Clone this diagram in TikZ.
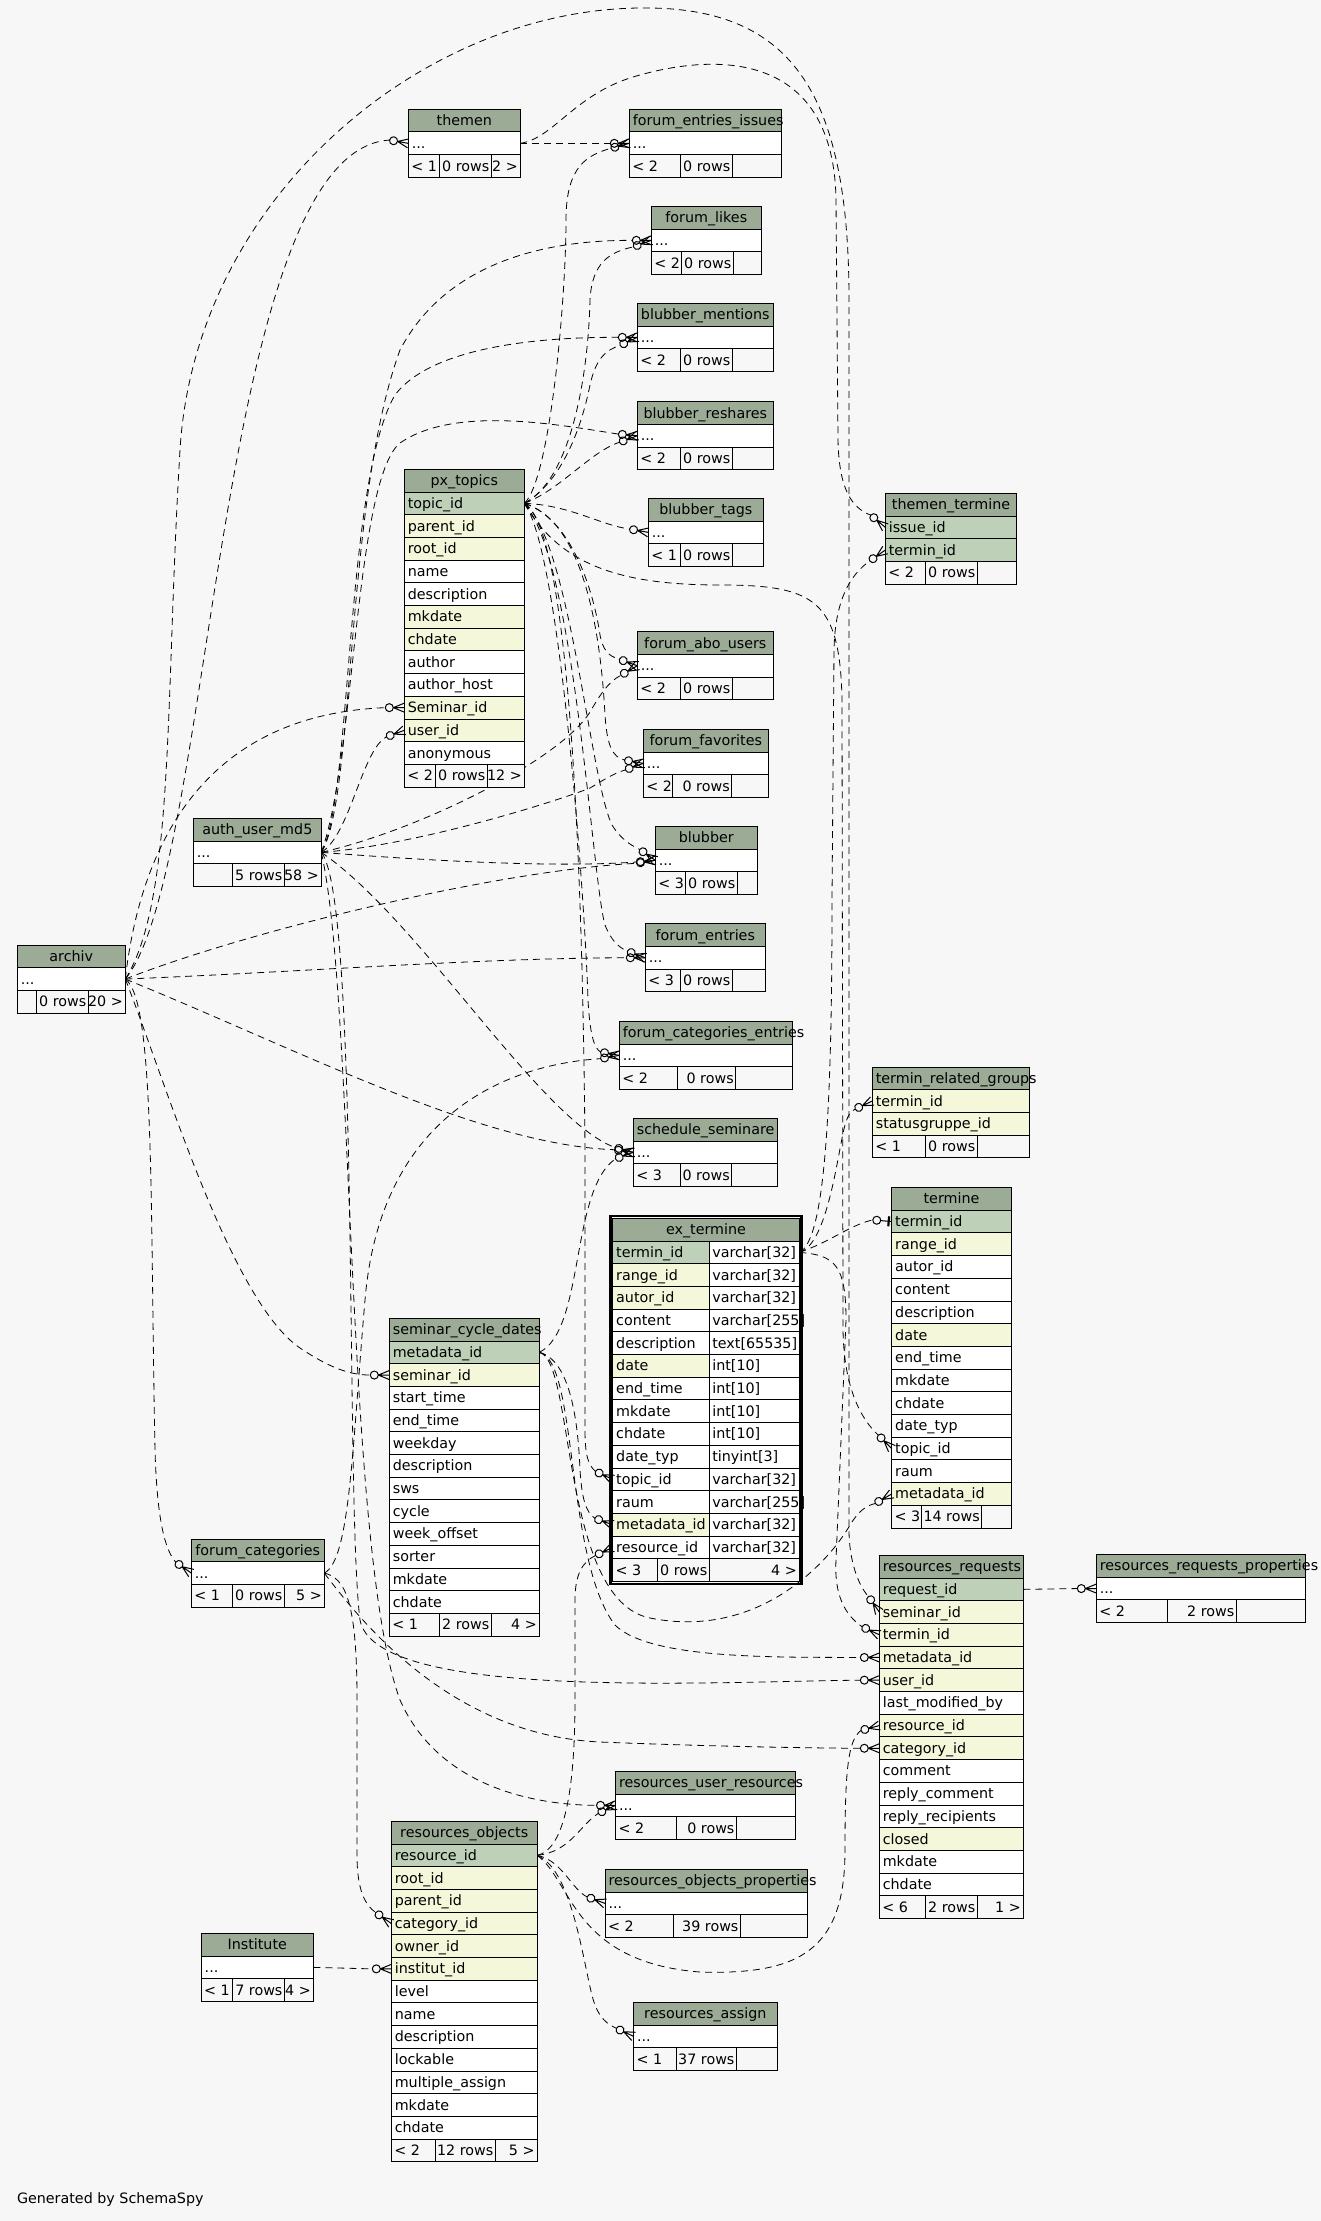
\documentclass[tikz,border=0pt]{standalone}
\usepackage{fontspec}
\setmainfont{DejaVu Sans}
\definecolor{bgc}{HTML}{F7F7F7}
\definecolor{hdc}{HTML}{9BAB96}
\definecolor{pk}{HTML}{BED1B8}
\definecolor{fk}{HTML}{F4F7DA}
\definecolor{wh}{HTML}{FFFFFF}
\definecolor{ftc}{HTML}{F7F7F7}
\pgfdeclarelayer{bglayer}
\pgfdeclarelayer{edgelayer}
\pgfsetlayers{bglayer,edgelayer,main}
\newcommand\tfont{\fontsize{14.3}{17}\selectfont}
\newcommand\ddd{...}
\tikzset{
 cell/.style={draw=black, line width=1pt, inner sep=0pt, outer sep=0pt, minimum height=22.7pt},
 txt/.style={inner sep=0pt, outer sep=0pt, font=\tfont, text=black},
 rel/.style={draw=black, line width=0.8pt, dash pattern=on 7pt off 5pt},
 mkl/.style={draw=black, line width=1pt, solid},
}
\newcommand\dbtab[6]{%
  \node[cell, fill=hdc, minimum width=#4pt, anchor=north west] (#1) at (#2,#3) {};
  \pgfmathsetmacro\tw{#4-7}%
  \node[txt, anchor=base west, text width=\tw pt, align=center] (#1-title) at (#2+3.5, #3+16.35) {\mbox{#5}};
  \foreach[count=\i] \rowf/\rowt in {#6}{%
    \node[cell, fill=\rowf, minimum width=#4pt, anchor=north west] (#1-\i) at (#2,#3+\i*22.7) {};
    \node[txt, anchor=base west] (#1-\i-t) at (#2+3.5,#3+\i*22.7+16.35) {\rowt};
  }%
}
\newcommand\dbfoot[9]{%
  \pgfmathsetmacro\wa{#4-(#2)}\pgfmathsetmacro\wb{#5-#4}\pgfmathsetmacro\wc{#6-#5}%
  \node[cell, fill=ftc, minimum width=\wa pt, anchor=north west] (#1-f1) at (#2,#3) {};
  \node[cell, fill=ftc, minimum width=\wb pt, anchor=north west] (#1-f2) at (#4,#3) {};
  \node[cell, fill=ftc, minimum width=\wc pt, anchor=north west] (#1-f3) at (#5,#3) {};
  \node[txt, anchor=base west] (#1-f1t) at (#2+3,#3+16.35) {#7};
  \node[txt, anchor=base east] (#1-f2t) at (#5-2,#3+16.35) {#8};
  \node[txt, anchor=base east] (#1-f3t) at (#6-2.5,#3+16.35) {#9};
}
\newcommand\mk[3]{%
 \begin{scope}[shift={(#2)},rotate=#3]
  \draw[mkl] (-15,0) circle[radius=4];
  \draw[mkl] (-11,0) -- (0,-4.5) (-11,0) -- (0,0) (-11,0) -- (0,4.5);
  \coordinate (#1) at (-19,0);
 \end{scope}}
\newcommand\mkone[3]{%
 \begin{scope}[shift={(#2)},rotate=#3]
  \draw[mkl] (-15,0) circle[radius=4];
  \draw[mkl] (-11,0) -- (0,0);
  \draw[mkl, line width=2.2pt] (-3,-5) -- (-3,5);
  \coordinate (#1) at (-19,0);
 \end{scope}}
\begin{document}
\begin{tikzpicture}[x=1pt,y=-1pt]
\begin{pgfonlayer}{bglayer}
\fill[bgc] (0,0) rectangle (1321,2221);
\end{pgfonlayer}
\useasboundingbox (0,0) rectangle (1321,2221);

% ---------- tables ----------
\dbtab{themen}{408.3}{109.3}{112}{themen}{wh/\ddd}
\dbfoot{themen}{408.3}{109.3+2*22.7}{439.3}{491.3}{520.3}{< 1}{0 rows}{2 >}
\dbtab{forum_entries_issues}{629.3}{109.3}{152}{forum\_entries\_issues}{wh/\ddd}
\dbfoot{forum_entries_issues}{629.3}{109.3+2*22.7}{680.3}{732.3}{781.3}{< 2}{0 rows}{}
\dbtab{forum_likes}{651.3}{206.3}{110}{forum\_likes}{wh/\ddd}
\dbfoot{forum_likes}{651.3}{206.3+2*22.7}{681.7}{733.3}{761.3}{< 2}{0 rows}{}
\dbtab{blubber_mentions}{637.3}{303.3}{136}{blubber\_mentions}{wh/\ddd}
\dbfoot{blubber_mentions}{637.3}{303.3+2*22.7}{680.3}{732.3}{773.3}{< 2}{0 rows}{}
\dbtab{blubber_reshares}{637.3}{401.7}{136}{blubber\_reshares}{wh/\ddd}
\dbfoot{blubber_reshares}{637.3}{401.7+2*22.7}{680.3}{732.3}{773.3}{< 2}{0 rows}{}
\dbtab{blubber_tags}{648.3}{498.3}{115}{blubber\_tags}{wh/\ddd}
\dbfoot{blubber_tags}{648.3}{498.3+2*22.7}{680.3}{732.3}{763.3}{< 1}{0 rows}{}
\dbtab{forum_abo_users}{637.3}{631.7}{136}{forum\_abo\_users}{wh/\ddd}
\dbfoot{forum_abo_users}{637.3}{631.7+2*22.7}{680.3}{732.3}{773.3}{< 2}{0 rows}{}
\dbtab{forum_favorites}{643.3}{729.3}{125}{forum\_favorites}{wh/\ddd}
\dbfoot{forum_favorites}{643.3}{729.3+2*22.7}{672.7}{731.7}{768.3}{< 2}{0 rows}{}
\dbtab{blubber}{655.3}{826.3}{102}{blubber}{wh/\ddd}
\dbfoot{blubber}{655.3}{826.3+2*22.7}{685.7}{737.3}{757.3}{< 3}{0 rows}{}
\dbtab{forum_entries}{645.3}{923.7}{120}{forum\_entries}{wh/\ddd}
\dbfoot{forum_entries}{645.3}{923.7+2*22.7}{680.3}{732.3}{765.3}{< 3}{0 rows}{}
\dbtab{forum_categories_entries}{619.3}{1021.3}{173}{forum\_categories\_entries}{wh/\ddd}
\dbfoot{forum_categories_entries}{619.3}{1021.3+2*22.7}{677.3}{735.7}{792.3}{< 2}{0 rows}{}
\dbtab{schedule_seminare}{633.3}{1118.3}{144}{schedule\_seminare}{wh/\ddd}
\dbfoot{schedule_seminare}{633.3}{1118.3+2*22.7}{680}{731.7}{777.3}{< 3}{0 rows}{}
\dbtab{themen_termine}{885.3}{493.3}{131.4}{themen\_termine}{pk/issue\_id,pk/termin\_id}
\dbfoot{themen_termine}{885.3}{493.3+3*22.7}{925.3}{977.3}{1016.7}{< 2}{0 rows}{}
\dbtab{termin_related_groups}{872.3}{1067}{157}{termin\_related\_groups}{fk/termin\_id,fk/statusgruppe\_id}
\dbfoot{termin_related_groups}{872.3}{1067+3*22.7}{925.3}{977.3}{1029.3}{< 1}{0 rows}{}
\dbtab{termine}{891.7}{1187.5}{119.6}{termine}{pk/termin\_id,fk/range\_id,wh/autor\_id,wh/content,wh/description,fk/date,wh/end\_time,wh/mkdate,wh/chdate,wh/date\_typ,wh/topic\_id,wh/raum,fk/metadata\_id}
\dbfoot{termine}{891.7}{1187.5+14*22.7}{921.3}{981.7}{1011.3}{< 3}{14 rows}{}
\dbtab{px_topics}{404.3}{469.3}{120}{px\_topics}{pk/topic\_id,fk/parent\_id,fk/root\_id,wh/name,wh/description,fk/mkdate,fk/chdate,wh/author,wh/author\_host,fk/Seminar\_id,fk/user\_id,wh/anonymous}
\dbfoot{px_topics}{404.3}{469.3+13*22.7}{435.3}{487.3}{524.3}{< 2}{0 rows}{12 >}
\dbtab{auth_user_md5}{193.3}{818.3}{128}{auth\_user\_md5}{wh/\ddd}
\dbfoot{auth_user_md5}{193.3}{818.3+2*22.7}{232.3}{284.3}{321.3}{}{5 rows}{58 >}
\dbtab{archiv}{17.3}{945}{108}{archiv}{wh/\ddd}
\dbfoot{archiv}{17.3}{945+2*22.7}{36.3}{88.3}{125.3}{}{0 rows}{20 >}
\dbtab{seminar_cycle_dates}{389.3}{1318.3}{150}{seminar\_cycle\_dates}{pk/metadata\_id,fk/seminar\_id,wh/start\_time,wh/end\_time,wh/weekday,wh/description,wh/sws,wh/cycle,wh/week\_offset,wh/sorter,wh/mkdate,wh/chdate}
\dbfoot{seminar_cycle_dates}{389.3}{1318.3+13*22.7}{439.3}{491.3}{539.3}{< 1}{2 rows}{4 >}
\dbtab{forum_categories}{191.3}{1539}{133}{forum\_categories}{wh/\ddd}
\dbfoot{forum_categories}{191.3}{1539+2*22.7}{232.3}{284.3}{324.3}{< 1}{0 rows}{5 >}
\dbtab{resources_requests}{879.3}{1555.3}{144}{resources\_requests}{pk/request\_id,fk/seminar\_id,fk/termin\_id,fk/metadata\_id,fk/user\_id,wh/last\_modified\_by,fk/resource\_id,fk/category\_id,wh/comment,wh/reply\_comment,wh/reply\_recipients,fk/closed,wh/mkdate,wh/chdate}
\dbfoot{resources_requests}{879.3}{1555.3+15*22.7}{925.3}{977.3}{1023.3}{< 6}{2 rows}{1 >}
\dbtab{resources_requests_properties}{1096.3}{1554.5}{209}{resources\_requests\_properties}{wh/\ddd}
\dbfoot{resources_requests_properties}{1096.3}{1554.5+2*22.7}{1167.7}{1236.3}{1305.3}{< 2}{2 rows}{}
\dbtab{resources_user_resources}{615.5}{1771.3}{180.4}{resources\_user\_resources}{wh/\ddd}
\dbfoot{resources_user_resources}{615.5}{1771.3+2*22.7}{676.1}{736.4}{795.9}{< 2}{0 rows}{}
\dbtab{resources_objects_properties}{605}{1869.3}{202.1}{resources\_objects\_properties}{wh/\ddd}
\dbfoot{resources_objects_properties}{605}{1869.3+2*22.7}{673.3}{740.4}{807.1}{< 2}{39 rows}{}
\dbtab{resources_assign}{633.6}{2002.3}{143.4}{resources\_assign}{wh/\ddd}
\dbfoot{resources_assign}{633.6}{2002.3+2*22.7}{676.1}{736.4}{777}{< 1}{37 rows}{}
\dbtab{resources_objects}{391.3}{1821.3}{145.8}{resources\_objects}{pk/resource\_id,fk/root\_id,fk/parent\_id,fk/category\_id,fk/owner\_id,fk/institut\_id,wh/level,wh/name,wh/description,wh/lockable,wh/multiple\_assign,wh/mkdate,wh/chdate}
\dbfoot{resources_objects}{391.3}{1821.3+14*22.7}{435.1}{495.3}{537.1}{< 2}{12 rows}{5 >}
\dbtab{Institute}{201.2}{1933.3}{112.1}{Institute}{wh/\ddd}
\dbfoot{Institute}{201.2}{1933.3+2*22.7}{232.2}{284.4}{313.3}{< 1}{7 rows}{4 >}

% ex_termine (two columns, bold frame)
\node[cell, fill=hdc, minimum width=186.6pt, anchor=north west] (ex_termine) at (612.7,1218.3) {};
\node[txt, anchor=base] (ex_termine-title) at (706,1218.3+16.35) {ex\_termine};
\foreach[count=\i] \rowf/\rown/\rowt in {pk/termin\_id/varchar[32],fk/range\_id/varchar[32],fk/autor\_id/varchar[32],wh/content/varchar[255],wh/description/text[65535],fk/date/int[10],wh/end\_time/int[10],wh/mkdate/int[10],wh/chdate/int[10],wh/date\_typ/tinyint[3],wh/topic\_id/varchar[32],wh/raum/varchar[255],fk/metadata\_id/varchar[32],wh/resource\_id/varchar[32]}{
  \node[cell, fill=\rowf, minimum width=96.6pt, anchor=north west] (ext-n\i) at (612.7,1218.3+\i*22.7) {};
  \node[cell, fill=wh, minimum width=90pt, anchor=north west] (ext-t\i) at (709.3,1218.3+\i*22.7) {};
  \node[txt, anchor=base west] (ext-n\i-t) at (616.2,1218.3+\i*22.7+16.35) {\rown};
  \node[txt, anchor=base west] (ext-t\i-t) at (712.3,1218.3+\i*22.7+16.35) {\rowt};
}
\dbfoot{ex_termine}{612.7}{1218.3+15*22.7}{657.3}{709.3}{799.3}{< 3}{0 rows}{4 >}
\draw[line width=2.6pt] (610.3,1215.9) rectangle (801.7,1583.9);

\node[txt, anchor=base west] (gen) at (17,2203) {Generated by SchemaSpy};

% ---------- markers ----------
\mk{e1}{themen-1.west}{-10}
\mk{e2}{resources_requests-2.west}{-55}
\mk{e3}{themen_termine-1.west}{-40}
\mk{e4}{forum_entries_issues-1.west}{0}
\mk{e5}{forum_entries_issues-1.west}{15}
\mk{e6}{forum_likes-1.west}{20}
\mk{e7}{blubber_mentions-1.west}{25}
\mk{e8}{blubber_reshares-1.west}{20}
\mk{e9}{blubber_tags-1.west}{-10}
\mk{e10}{forum_abo_users-1.west}{-20}
\mk{e11}{forum_abo_users-1.west}{30}
\mk{e12}{forum_favorites-1.west}{-10}
\mk{e13}{forum_favorites-1.west}{20}
\mk{e14}{blubber-1.west}{-35}
\mk{e15}{blubber-1.west}{5}
\mk{e16}{blubber-1.west}{9}
\mk{e17}{forum_entries-1.west}{0}
\mk{e18}{forum_entries-1.west}{-20}
\mk{e19}{forum_categories_entries-1.west}{-10}
\mk{e20}{forum_categories_entries-1.west}{10}
\mk{e21}{schedule_seminare-1.west}{-8}
\mk{e22}{schedule_seminare-1.west}{-15}
\mk{e23}{schedule_seminare-1.west}{20}
\mk{e24}{px_topics-10.west}{0}
\mk{e25}{px_topics-11.west}{20}
\mk{e26}{forum_likes-1.west}{0}
\mk{e27}{blubber_mentions-1.west}{0}
\mk{e28}{blubber_reshares-1.west}{-5}
\mk{e29}{resources_requests-5.west}{0}
\mk{e30}{resources_user_resources-1.west}{0}
\mk{e31}{forum_categories-1.west}{-35}
\mk{e32}{seminar_cycle_dates-2.west}{0}
\mk{e33}{resources_objects-4.west}{-35}
\mk{e34}{resources_requests-8.west}{0}
\mk{e35}{resources_objects-6.west}{0}
\mk{e36}{resources_user_resources-1.west}{25}
\mk{e37}{resources_objects_properties-1.west}{-20}
\mk{e38}{resources_assign-1.west}{-25}
\mk{e39}{resources_requests-7.west}{15}
\mk{e40}{ext-n14.west}{25}
\mk{e41}{ext-n13.west}{-20}
\mk{e42}{ext-n11.west}{-25}
\mk{e43}{termine-13.west}{30}
\mk{e44}{resources_requests-4.west}{0}
\mk{e45}{termine-11.west}{-45}
\mkone{e46}{termine-1.west}{-5}
\mk{e47}{termin_related_groups-1.west}{25}
\mk{e48}{themen_termine-2.west}{35}
\mk{e49}{resources_requests-3.west}{-25}
\mk{e50}{resources_requests_properties-1.west}{0}

% ---------- connectors ----------
\begin{pgfonlayer}{edgelayer}
\draw[rel] (archiv-1.east) .. controls (215,870) and (215,150) .. (e1);
\draw[rel] (archiv-1.east) .. controls (175,900) and (165,700) .. (180,450) .. controls (195,200) and (420,10) .. (640,8) .. controls (790,6) and (849,90) .. (849,300) -- (849,1530) .. controls (849,1560) and (858,1585) .. (e2);
\draw[rel] (themen-1.east) .. controls (555,138) and (575,92) .. (640,75) .. controls (730,50) and (834,60) .. (836,200) -- (838,440) .. controls (839,490) and (852,508) .. (e3);
\draw[rel] (themen-1.east) -- (e4);
\draw[rel] (px_topics-1.east) .. controls (550,480) and (566,300) .. (566,220) .. controls (566,165) and (588,155) .. (e5);
\draw[rel] (px_topics-1.east) .. controls (570,480) and (588,380) .. (590,300) .. controls (592,262) and (610,252) .. (e6);
\draw[rel] (px_topics-1.east) .. controls (565,480) and (583,420) .. (590,385) .. controls (596,358) and (606,350) .. (e7);
\draw[rel] (px_topics-1.east) .. controls (560,490) and (590,452) .. (e8);
\draw[rel] (px_topics-1.east) .. controls (570,505) and (600,525) .. (e9);
\draw[rel] (px_topics-1.east) .. controls (575,520) and (595,600) .. (600,635) .. controls (603,650) and (608,656) .. (e10);
\draw[rel] (auth_user_md5-1.east) .. controls (420,830) and (560,760) .. (590,712) .. controls (600,695) and (608,682) .. (e11);
\draw[rel] (px_topics-1.east) .. controls (580,520) and (600,620) .. (605,715) .. controls (607,745) and (612,757) .. (e12);
\draw[rel] (auth_user_md5-1.east) .. controls (420,845) and (560,800) .. (590,788) .. controls (602,781) and (612,774) .. (e13);
\draw[rel] (px_topics-1.east) .. controls (570,540) and (590,780) .. (612,825) .. controls (620,838) and (630,845) .. (e14);
\draw[rel] (auth_user_md5-1.east) .. controls (420,860) and (550,868) .. (e15);
\draw[rel] (archiv-1.east) .. controls (250,930) and (500,870) .. (e16);
\draw[rel] (archiv-1.east) .. controls (300,972) and (480,958) .. (e17);
\draw[rel] (px_topics-1.east) .. controls (575,560) and (592,880) .. (605,925) .. controls (611,940) and (618,947) .. (e18);
\draw[rel] (px_topics-1.east) .. controls (560,550) and (585,900) .. (588,1000) .. controls (590,1035) and (594,1048) .. (e19);
\draw[rel] (forum_categories-1.east) .. controls (350,1560) and (352,1450) .. (365,1300) .. controls (380,1120) and (500,1065) .. (e20);
\draw[rel] (archiv-1.east) .. controls (300,1050) and (480,1145) .. (e21);
\draw[rel] (auth_user_md5-1.east) .. controls (420,920) and (540,1120) .. (e22);
\draw[rel] (seminar_cycle_dates-1.east) .. controls (585,1330) and (570,1190) .. (e23);
\draw[rel] (archiv-1.east) .. controls (140,850) and (200,715) .. (e24);
\draw[rel] (auth_user_md5-1.east) .. controls (350,835) and (362,750) .. (e25);
\draw[rel] (auth_user_md5-1.east) .. controls (355,800) and (345,500) .. (400,350) .. controls (450,255) and (560,240) .. (e26);
\draw[rel] (auth_user_md5-1.east) .. controls (352,800) and (345,480) .. (395,395) .. controls (435,342) and (560,337) .. (e27);
\draw[rel] (auth_user_md5-1.east) .. controls (355,760) and (355,480) .. (400,443) .. controls (455,405) and (560,425) .. (e28);
\draw[rel] (auth_user_md5-1.east) .. controls (360,900) and (345,1500) .. (360,1620) .. controls (375,1700) and (700,1682) .. (e29);
\draw[rel] (auth_user_md5-1.east) .. controls (355,1000) and (345,1550) .. (400,1700) .. controls (440,1790) and (540,1805) .. (e30);
\draw[rel] (archiv-1.east) .. controls (155,1000) and (150,1200) .. (155,1450) .. controls (157,1520) and (165,1550) .. (e31);
\draw[rel] (archiv-1.east) .. controls (165,1080) and (230,1300) .. (300,1348) .. controls (330,1368) and (350,1375) .. (e32);
\draw[rel] (forum_categories-1.east) .. controls (345,1578) and (357,1600) .. (357,1700) -- (357,1855) .. controls (357,1890) and (365,1905) .. (e33);
\draw[rel] (forum_categories-1.east) .. controls (360,1620) and (450,1735) .. (600,1742) .. controls (700,1746) and (800,1748) .. (e34);
\draw[rel] (Institute-1.east) -- (e35);
\draw[rel] (resources_objects-1.east) .. controls (570,1852) and (580,1825) .. (e36);
\draw[rel] (resources_objects-1.east) .. controls (562,1860) and (572,1890) .. (e37);
\draw[rel] (resources_objects-1.east) .. controls (575,1870) and (585,1980) .. (595,2005) .. controls (600,2018) and (607,2024) .. (e38);
\draw[rel] (resources_objects-1.east) .. controls (572,1880) and (572,1962) .. (700,1972) .. controls (800,1975) and (845,1950) .. (845,1850) .. controls (845,1770) and (848,1740) .. (e39);
\draw[rel] (resources_objects-1.east) .. controls (562,1850) and (575,1800) .. (575,1700) -- (575,1600) .. controls (575,1575) and (582,1562) .. (e40);
\draw[rel] (seminar_cycle_dates-1.east) .. controls (570,1360) and (578,1420) .. (580,1470) .. controls (582,1500) and (586,1512) .. (e41);
\draw[rel] (px_topics-1.east) .. controls (572,530) and (583,900) .. (585,1150) -- (585,1430) .. controls (585,1455) and (588,1465) .. (e42);
\draw[rel] (seminar_cycle_dates-1.east) .. controls (575,1360) and (560,1600) .. (650,1618) .. controls (760,1640) and (830,1560) .. (850,1525) .. controls (858,1512) and (865,1506) .. (e43);
\draw[rel] (seminar_cycle_dates-1.east) .. controls (578,1360) and (565,1560) .. (615,1625) .. controls (650,1660) and (780,1657) .. (e44);
\draw[rel] (px_topics-1.east) .. controls (560,565) and (620,585) .. (720,585) .. controls (815,585) and (840,600) .. (842,700) -- (843,1330) .. controls (844,1390) and (862,1420) .. (e45);
\draw[rel] (ext-t1.east) .. controls (830,1242) and (850,1225) .. (e46);
\draw[rel] (ext-t1.east) .. controls (828,1245) and (838,1150) .. (845,1125) .. controls (848,1115) and (850,1112) .. (e47);
\draw[rel] (ext-t1.east) .. controls (826,1240) and (832,1100) .. (832,900) -- (834,650) .. controls (835,600) and (850,575) .. (e48);
\draw[rel] (ext-t1.east) .. controls (835,1255) and (846,1265) .. (846,1320) -- (836,1560) .. controls (834,1595) and (845,1615) .. (e49);
\draw[rel] (resources_requests-1.east) -- (e50);
\end{pgfonlayer}
\end{tikzpicture}
\end{document}
